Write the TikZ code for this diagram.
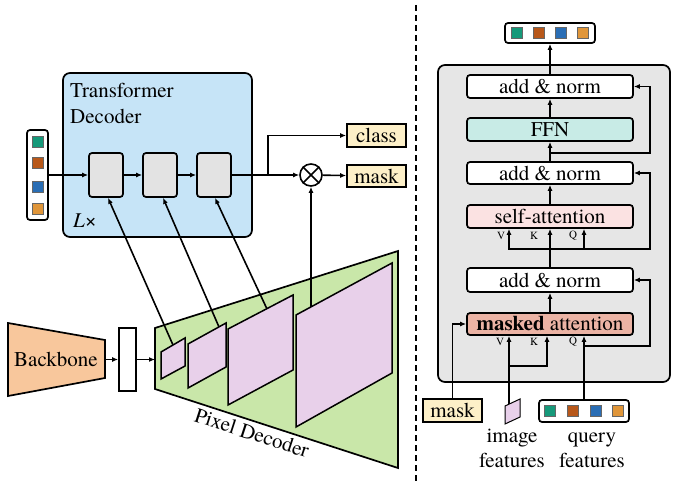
\documentclass[tikz,border=0pt]{standalone}
\usepackage{fontspec}
\setmainfont{TeX Gyre Termes}
\usetikzlibrary{arrows.meta,calc}
\definecolor{tblue}{HTML}{C6E4F7}
\definecolor{bgray}{HTML}{E3E3E3}
\definecolor{ylw}{HTML}{FDF0C8}
\definecolor{pgreen}{HTML}{C9E7A9}
\definecolor{ppink}{HTML}{E8D0EA}
\definecolor{bbor}{HTML}{F8C79C}
\definecolor{rgray}{HTML}{E6E6E6}
\definecolor{ffnc}{HTML}{C8EBE6}
\definecolor{sac}{HTML}{FBE2E2}
\definecolor{mac}{HTML}{EBB3A4}
\definecolor{qgreen}{HTML}{16997A}
\definecolor{qbrown}{HTML}{B8581A}
\definecolor{qblue}{HTML}{2A6EB5}
\definecolor{qorange}{HTML}{E0963A}
\begin{document}
\begin{tikzpicture}[x=1pt,y=-1pt,
  every node/.style={font=\fontsize{21}{24}\selectfont, inner sep=0pt},
  arr/.style={-{Latex[length=6pt,width=5pt]}, line width=1.6pt},
  ln/.style={line width=1.6pt},
  bx/.style={draw, line width=1.7pt, rounded corners=3pt},
  sqr/.style={draw=black!60, line width=0.4pt, minimum size=11pt},
  small/.style={font=\fontsize{11}{12}\selectfont},
  shp/.style={draw, line width=1.7pt}
]
\useasboundingbox (0,0) rectangle (690,487);

% ---------------- left: transformer decoder ----------------
\node[bx, fill=tblue, rounded corners=7pt, minimum width=189pt, minimum height=164pt] (tdec) at (157.5,155) {};
\node[anchor=base west] (tdt1) at (70,97) {Transformer};
\node[anchor=base west] (tdt2) at (70,123) {Decoder};
\node[anchor=base west] (lx) at (73,227) {\textit{L}×};

\node[bx, fill=white, minimum width=21pt, minimum height=90pt] (qin) at (37.5,175) {};
\node[sqr, fill=qgreen] (qi1) at (37.5,141.5) {};
\node[sqr, fill=qbrown] (qi2) at (37.5,162.5) {};
\node[sqr, fill=qblue] (qi3) at (37.5,186.5) {};
\node[sqr, fill=qorange] (qi4) at (37.5,208.5) {};

\node[bx, fill=bgray, minimum width=34pt, minimum height=44pt] (b1) at (106,175) {};
\node[bx, fill=bgray, minimum width=34pt, minimum height=44pt] (b2) at (160,175) {};
\node[bx, fill=bgray, minimum width=34pt, minimum height=44pt] (b3) at (214,175) {};

\node[circle, draw, line width=1.6pt, fill=white, minimum size=22pt] (ot) at (311,175) {};
\draw[line width=1.6pt] (ot.north west) -- (ot.south east) (ot.north east) -- (ot.south west);

\node[draw, line width=1.7pt, fill=ylw, minimum width=59pt, minimum height=23pt] (cls) at (376.5,135.5) {class};
\node[draw, line width=1.7pt, fill=ylw, minimum width=59pt, minimum height=22pt] (msk) at (376.5,176) {mask};

\draw[arr] (qin) -- (b1);
\draw[arr] (b1) -- (b2);
\draw[arr] (b2) -- (b3);
\coordinate (jn) at (268,175);
\draw[ln] (b3) -- (jn);
\draw[arr] (jn) -- (ot);
\draw[arr] (jn) |- (cls);
\draw[arr] (ot) -- (msk);

% ---------------- pixel decoder ----------------
\draw[shp, fill=pgreen] (155,328) -- (398,251) -- (398,468) -- (155,389) -- cycle;
\draw[shp, line width=1.5pt, fill=ppink] (161,352) -- (185,338) -- (185,366) -- (161,379) -- cycle;
\draw[shp, line width=1.5pt, fill=ppink] (188,344) -- (226,323) -- (226,367) -- (188,388) -- cycle;
\draw[shp, line width=1.5pt, fill=ppink] (228,329) -- (293,295) -- (293,370) -- (228,405) -- cycle;
\draw[shp, line width=1.5pt, fill=ppink] (296,315) -- (392,263) -- (392,373) -- (296,427) -- cycle;
\node[rotate=-18] (pdl) at (252,433) {Pixel Decoder};

\coordinate (p1) at (173,345);
\coordinate (p2) at (219,327);
\coordinate (p3) at (267,309);
\coordinate (p4) at (311,307);
\draw[arr] (p1) -- ([xshift=2pt]b1.south);
\draw[arr] (p2) -- ([xshift=3pt]b2.south);
\draw[arr] (p3) -- ([xshift=1pt]b3.south);
\draw[arr] (p4) -- (ot);

% ---------------- backbone ----------------
\draw[shp, fill=bbor] (8,323) -- (105,340) -- (105,378) -- (8,396) -- cycle;
\node (bb) at (56,359) {Backbone};
\coordinate (bbe) at (105,359.5);
\node[draw, line width=1.7pt, fill=white, minimum width=17pt, minimum height=63pt] (enc) at (127.5,359.5) {};
\coordinate (pdin) at (155,359.5);
\draw[arr] (bbe) -- (enc);
\draw[arr] (enc) -- (pdin);

% ---------------- separator ----------------
\coordinate (dt) at (416,5);
\coordinate (db) at (416,482);
\draw[line width=1.5pt, dash pattern=on 6pt off 4pt] (dt) -- (db);

% ---------------- right: decoder layer ----------------
\node[bx, fill=rgray, rounded corners=7pt, minimum width=232pt, minimum height=317pt] (rbox) at (554,223.5) {};

\node[bx, fill=white, minimum width=90pt, minimum height=20pt] (qout) at (550,33) {};
\node[sqr, fill=qgreen] (qo1) at (516.5,33) {};
\node[sqr, fill=qbrown] (qo2) at (539,33) {};
\node[sqr, fill=qblue] (qo3) at (561,33) {};
\node[sqr, fill=qorange] (qo4) at (582.5,33) {};

\node[bx, fill=white, minimum width=166pt, minimum height=23pt] (an1) at (550,86.5) {add \& norm};
\node[bx, fill=ffnc, minimum width=166pt, minimum height=23pt] (ffn) at (550,129.5) {FFN};
\node[bx, fill=white, minimum width=166pt, minimum height=22pt] (an2) at (550,173) {add \& norm};
\node[bx, fill=sac, minimum width=166pt, minimum height=23pt] (sa) at (550,216.5) {self-attention};
\node[bx, fill=white, minimum width=166pt, minimum height=24pt] (an3) at (550,280) {add \& norm};
\node[bx, fill=mac, minimum width=166pt, minimum height=22pt] (ma) at (550,324) {\textbf{masked} attention};

\draw[arr] (an1) -- (qout);
\draw[arr] (ffn) -- (an1);
\draw[arr] (an2) -- (ffn);
\draw[arr] (sa) -- (an2);
\draw[arr] (an3) -- (sa);
\draw[arr] (ma) -- (an3);

\coordinate (r1) at (550,153);
\coordinate (c1) at (650,86.5);
\draw[arr] (r1) -| (c1) -- (an1.east);

\coordinate (r2) at (550,249);
\coordinate (c2) at (650,173);
\draw[arr] (r2) -| (c2) -- (an2.east);
\draw[arr] (r2) -| ([xshift=-41pt]sa.south);
\draw[arr] (r2) -| ([xshift=34pt]sa.south);
\node[small] (lv1) at (501,236) {V};
\node[small] (lk1) at (534,236) {K};
\node[small] (lq1) at (573,236) {Q};

% inputs
\node[draw, line width=1.7pt, fill=ylw, minimum width=59pt, minimum height=23pt] (mk2) at (452.5,410.5) {mask};
\draw[arr] (mk2.north) |- (ma.west);

\draw[line width=1pt, fill=ppink] (505,406) -- (520,399) -- (520,417) -- (505,424) -- cycle;
\coordinate (imf) at (509,404);
\coordinate (r4) at (509,366);
\draw[arr] (imf) -- ([xshift=-41pt]ma.south);
\draw[arr] (r4) -| ([xshift=-3pt]ma.south);

\node[bx, fill=white, minimum width=90pt, minimum height=22pt] (qf) at (584,411) {};
\node[sqr, fill=qgreen] (qf1) at (550,411) {};
\node[sqr, fill=qbrown] (qf2) at (572.5,411) {};
\node[sqr, fill=qblue] (qf3) at (595.5,411) {};
\node[sqr, fill=qorange] (qf4) at (617.5,411) {};
\draw[arr] (qf.north) -- ([xshift=34pt]ma.south);
\coordinate (r3) at (584,346);
\coordinate (c3) at (650,280);
\draw[arr] (r3) -| (c3) -- (an3.east);

\node[small] (lv2) at (500,342) {V};
\node[small] (lk2) at (534,342) {K};
\node[small] (lq2) at (573,342) {Q};

\node[anchor=base] (imt1) at (512,442) {image};
\node[anchor=base] (imt2) at (512,467) {features};
\node[anchor=base] (qft1) at (592,442) {query};
\node[anchor=base] (qft2) at (592,467) {features};
\end{tikzpicture}
\end{document}
